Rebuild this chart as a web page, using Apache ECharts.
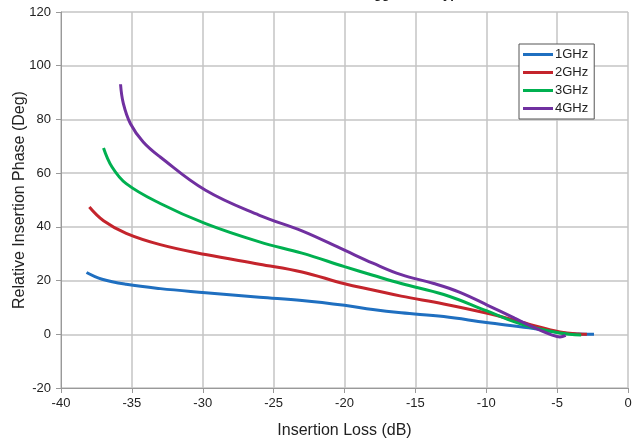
<!DOCTYPE html>
<html>
<head>
<meta charset="utf-8">
<script src="https://cdn.jsdelivr.net/npm/echarts@6/dist/echarts.min.js"></script>
<style>
  html, body { margin: 0; padding: 0; background: #fff; }
  #chart { width: 634px; height: 444px; }
</style>
</head>
<body>
<div id="chart"></div>
<script>
// series names
const names = ['1GHz', '2GHz', '3GHz', '4GHz'];
const colors = ['#1f6fc0', '#c4242c', '#00b050', '#7030a0'];

// [insertion loss dB, relative phase deg]
const ghz1 = [
  [-38.2, 23.0], [-37.1, 20.5], [-35.4, 18.6], [-33.0, 17.0], [-29.8, 15.5],
  [-26.0, 13.8], [-23.0, 12.6], [-20.0, 10.8], [-18.0, 9.2], [-16.0, 8.0],
  [-13.0, 6.6], [-10.0, 4.4], [-7.0, 2.4], [-4.8, 0.6], [-3.5, 0.1], [-2.4, 0]
];
const ghz2 = [
  [-38.0, 47.4], [-37.0, 42.3], [-35.4, 37.6], [-33.0, 33.4], [-29.8, 29.7],
  [-26.0, 26.1], [-23.0, 23.2], [-20.0, 18.8], [-18.0, 16.5], [-16.0, 14.2],
  [-13.0, 11.3], [-10.0, 7.9], [-7.0, 3.8], [-4.8, 0.9], [-3.5, 0.1], [-2.9, 0]
];
const ghz3 = [
  [-37.0, 69.4], [-36.4, 62.3], [-35.4, 56.1], [-33.0, 48.7], [-29.8, 41.2],
  [-26.0, 34.4], [-23.0, 30.2], [-20.0, 25.2], [-18.0, 22.0], [-16.0, 18.9],
  [-13.0, 14.8], [-10.0, 8.8], [-8.0, 4.6], [-6.7, 2.5], [-4.8, 0.5], [-3.3, -0.3]
];
const ghz4 = [
  [-35.8, 93.1], [-35.6, 85.9], [-35.1, 78.4], [-34.2, 71.6], [-33.0, 66.0],
  [-29.8, 53.6], [-26.0, 44.3], [-23.0, 38.5], [-20.0, 31.3], [-18.0, 26.5],
  [-16.0, 22.2], [-13.7, 18.9], [-11.9, 15.7], [-9.9, 10.8], [-8.0, 6.0],
  [-6.7, 2.7], [-5.3, -0.4], [-4.8, -1.0], [-4.4, -0.4]
];
const allData = [ghz1, ghz2, ghz3, ghz4];

const font = 'Liberation Sans, Arial, sans-serif';
const chart = echarts.init(document.getElementById('chart'), null, { renderer: 'canvas' });

chart.setOption({
  animation: false,
  textStyle: { fontFamily: font },
  title: {
    text: 'Relative Phase vs. Attenuation, Exaggerated, Typical',
    left: 'center',
    top: -17,
    textStyle: { fontSize: 13, fontWeight: 'bold', color: '#222', fontFamily: font }
  },
  grid: { left: 61, right: 6, top: 12, bottom: 56, outerBoundsMode: 'none', containLabel: false },
  legend: {
    data: names,
    orient: 'vertical',
    left: 519,
    top: 44,
    backgroundColor: '#fff',
    borderColor: '#555',
    borderWidth: 1,
    padding: [4, 6, 4, 4],
    itemGap: 5,
    itemWidth: 30,
    itemHeight: 3,
    icon: 'rect',
    textStyle: { fontSize: 13, color: '#222', padding: [0, 0, 0, -3] }
  },
  xAxis: {
    type: 'value',
    min: -40,
    max: 0,
    interval: 5,
    name: 'Insertion Loss (dB)',
    nameLocation: 'middle',
    nameGap: 35,
    nameMoveOverlap: false,
    nameTextStyle: { fontSize: 16, color: '#222' },
    axisLine: { onZero: false, lineStyle: { color: '#999' } },
    axisTick: { show: true, length: 5, lineStyle: { color: '#999' } },
    axisLabel: { fontSize: 13, color: '#222', margin: 9 },
    splitLine: { show: true, lineStyle: { color: '#c4c4c4', width: 1.5 } }
  },
  yAxis: {
    type: 'value',
    min: -20,
    max: 120,
    interval: 20,
    name: 'Relative Insertion Phase (Deg)',
    nameLocation: 'middle',
    nameGap: 33,
    nameMoveOverlap: false,
    nameTextStyle: { fontSize: 16, color: '#222' },
    axisLine: { show: true, onZero: false, lineStyle: { color: '#999' } },
    axisTick: { show: true, length: 5, lineStyle: { color: '#999' } },
    axisLabel: { fontSize: 13, color: '#222', margin: 10 },
    splitLine: { show: true, lineStyle: { color: '#c4c4c4', width: 1.5 } }
  },
  series: names.map((name, i) => ({
    name: name,
    type: 'line',
    data: allData[i],
    smooth: 0.4,
    showSymbol: false,
    lineStyle: { width: 3, color: colors[i] },
    itemStyle: { color: colors[i] }
  }))
});
</script>
</body>
</html>
